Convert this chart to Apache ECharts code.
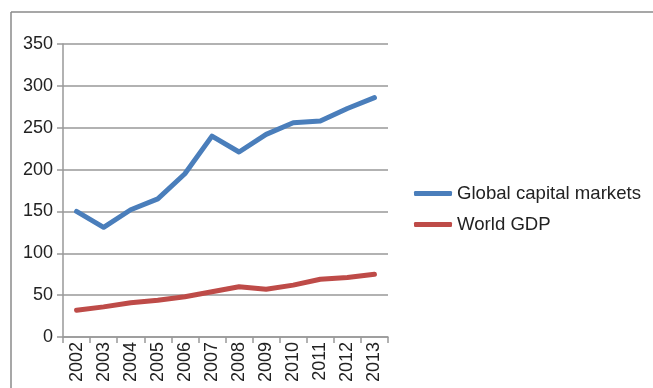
<!DOCTYPE html>
<html>
<head>
<meta charset="utf-8">
<script src="https://cdn.jsdelivr.net/npm/echarts@6/dist/echarts.min.js"></script>
<style>html,body{margin:0;padding:0;background:#fff;overflow:hidden}#c{width:653px;height:388px}</style>
</head>
<body>
<div id="c"></div>
<script>
var years = ['2002','2003','2004','2005','2006','2007','2008','2009','2010','2011','2012','2013'];
var globalCapitalMarkets = [150, 131, 152, 165, 195, 240, 221, 242, 256, 258, 273, 286];
var worldGDP = [32, 36, 41, 44, 48, 54, 60, 57, 62, 69, 71, 75];
var yTicks = {min: 0, max: 350, interval: 50};

var chart = echarts.init(document.getElementById('c'), null, {renderer: 'canvas'});
var font = 'Liberation Sans, Arial, sans-serif';
chart.setOption({
  animation: false,
  backgroundColor: '#fff',
  graphic: [{
    type: 'line', silent: true, z: 0,
    shape: {x1: 11, y1: 12, x2: 660, y2: 12},
    style: {stroke: '#8a8a8a', lineWidth: 1.5}
  }, {
    type: 'line', silent: true, z: 0,
    shape: {x1: 11, y1: 12, x2: 11, y2: 395},
    style: {stroke: '#8a8a8a', lineWidth: 1.5}
  }],
  grid: {left: 63, right: 265, top: 44, bottom: 51, containLabel: false},
  legend: {
    orient: 'vertical', left: 409, top: 179,
    itemWidth: 38, itemHeight: 5, itemGap: 12,
    icon: 'roundRect',
    textStyle: {fontFamily: font, fontSize: 18.6, color: '#222'},
    data: ['Global capital markets', 'World GDP']
  },
  xAxis: {
    type: 'category', data: years, boundaryGap: true,
    axisLine: {lineStyle: {color: '#999', width: 1.5}},
    axisTick: {show: true, length: 6, lineStyle: {color: '#999', width: 1.5}},
    axisLabel: {rotate: 90, fontFamily: font, fontSize: 18, color: '#222', margin: 5, interval: 0},
    splitLine: {show: false}
  },
  yAxis: {
    type: 'value', min: yTicks.min, max: yTicks.max, interval: yTicks.interval,
    axisLine: {show: true, lineStyle: {color: '#999', width: 1.5}},
    axisTick: {show: true, length: 6, lineStyle: {color: '#999', width: 1.5}},
    axisLabel: {fontFamily: font, fontSize: 18, color: '#222', margin: 10},
    splitLine: {show: true, lineStyle: {color: '#999', width: 1.5}}
  },
  series: [{
    name: 'Global capital markets', type: 'line', data: globalCapitalMarkets,
    symbol: 'none', color: '#4a7ebb',
    lineStyle: {width: 5, color: '#4a7ebb', cap: 'round', join: 'round'}
  }, {
    name: 'World GDP', type: 'line', data: worldGDP,
    symbol: 'none', color: '#be4b48',
    lineStyle: {width: 5, color: '#be4b48', cap: 'round', join: 'round'}
  }]
});
</script>
</body>
</html>
